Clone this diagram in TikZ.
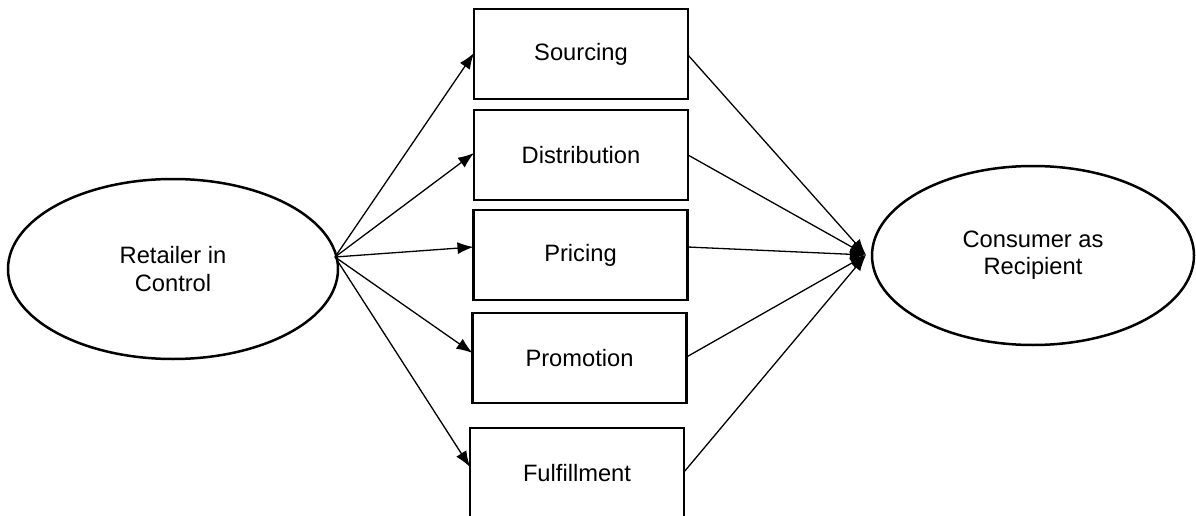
\documentclass[tikz,border=0pt]{standalone}
\usepackage{fontspec}
\setmainfont{Liberation Sans}
\usetikzlibrary{shapes.geometric,arrows.meta}
\begin{document}
\begin{tikzpicture}[x=1pt,y=-1pt,
  txt/.style={font=\fontsize{23.7}{27.3}\selectfont, align=center, text=black},
  oval/.style={txt, draw=black, ellipse, line width=2.5pt, inner sep=0pt, outer sep=0pt},
  stepbox/.style={txt, draw=black, rectangle, line width=2.7pt, minimum width=214pt, minimum height=90pt, inner sep=0pt, outer sep=0pt},
  conn/.style={line width=1.3pt, -{Latex[length=16pt,width=12pt]}}]
\useasboundingbox (0,0) rectangle (1196,516);
\clip (0,0) rectangle (1196,516);
\node[oval, minimum width=330pt, minimum height=180pt] (ret) at (173,269) {Retailer in\\Control};
\node[oval, minimum width=322pt, minimum height=179pt] (con) at (1033,255.5) {Consumer as\\Recipient};
\node[stepbox] (src) at (581,54) {Sourcing};
\node[stepbox] (dis) at (581,155) {Distribution};
\node[stepbox] (pri) at (580.5,255) {Pricing};
\node[stepbox] (pro) at (579.5,358) {Promotion};
\node[stepbox] (ful) at (577,473) {Fulfillment};
\coordinate (L) at (335,257);
\coordinate (R) at (866,255);
\draw[conn] (L) -- ([yshift=1pt]src.west);
\draw[conn] (L) -- ([yshift=2pt]dis.west);
\draw[conn] (L) -- ([yshift=8pt]pri.west);
\draw[conn] (L) -- ([yshift=5pt]pro.west);
\draw[conn] (L) -- ([yshift=6pt]ful.west);
\draw[conn] ([yshift=-1pt]src.east) -- (R);
\draw[conn] (dis.east) -- (R);
\draw[conn] ([yshift=8pt]pri.east) -- (R);
\draw[conn] ([yshift=1pt]pro.east) -- (R);
\draw[conn] ([yshift=1pt]ful.east) -- (R);
\end{tikzpicture}
\end{document}
